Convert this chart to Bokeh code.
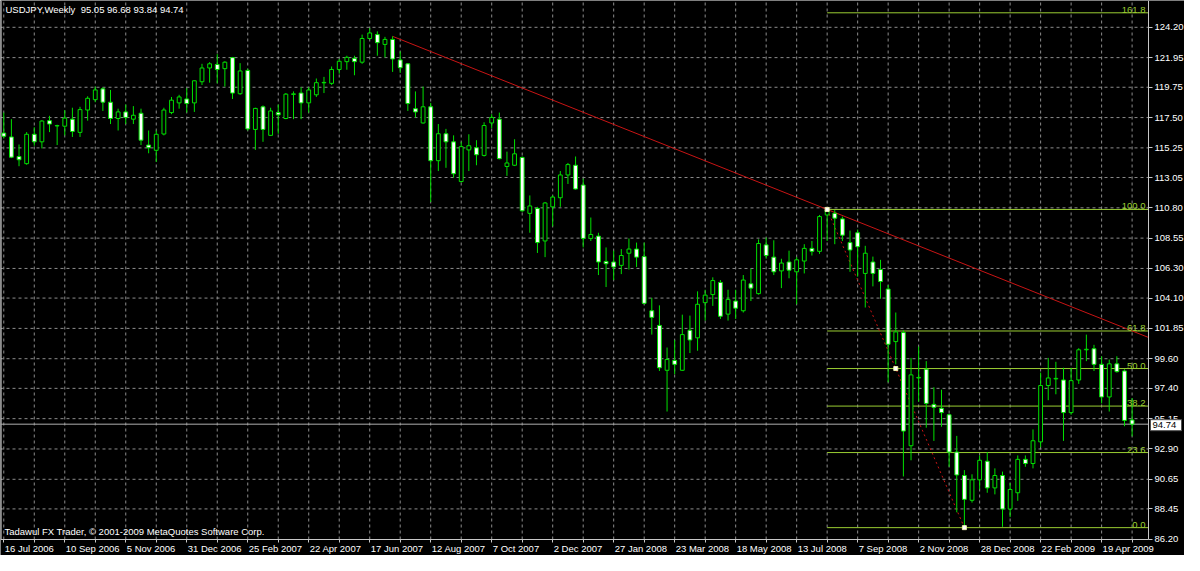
from bokeh.plotting import figure
from bokeh.models import FixedTicker, NumeralTickFormatter, Label, ColumnDataSource
from bokeh.core.properties import value
from bokeh.embed import file_html
from bokeh.resources import INLINE

# ---------------- data (USDJPY weekly) ----------------
opens = [
    116.35, 116.06, 114.61, 114.08, 116.26, 115.70, 117.27, 116.90, 116.86, 117.38,
    116.40, 118.06, 118.83, 119.63, 118.64, 117.43, 117.92, 117.38, 117.82, 115.46,
    115.07, 116.28, 117.87, 118.59, 118.88, 118.59, 120.16, 121.18, 121.44, 121.13,
    121.95, 119.27, 121.00, 116.62, 118.30, 116.18, 117.87, 117.43, 119.22, 119.32,
    118.59, 119.19, 120.08, 120.04, 121.07, 121.65, 121.90, 121.61, 123.37, 123.66,
    122.93, 123.30, 121.78, 121.49, 118.16, 117.10, 118.30, 114.30, 116.30, 115.70,
    112.75, 115.10, 115.26, 114.69, 117.10, 117.38, 113.87, 113.96, 114.54, 110.39,
    110.76, 108.34, 110.87, 111.55, 113.24, 113.96, 112.49, 108.53, 108.70, 106.82,
    106.78, 106.53, 107.43, 107.74, 107.18, 103.16, 102.07, 98.74, 99.47, 98.74,
    101.71, 101.15, 103.76, 104.36, 105.26, 102.91, 103.88, 103.16, 105.16, 104.43,
    108.05, 107.14, 106.12, 106.78, 106.05, 106.85, 107.79, 107.57, 110.27, 110.39,
    109.98, 108.22, 108.95, 105.93, 106.78, 106.22, 104.77, 100.87, 101.54, 93.14,
    98.17, 98.82, 96.21, 95.92, 95.44, 92.67, 90.93, 89.09, 90.61, 91.99,
    90.01, 90.93, 88.44, 89.65, 92.13, 91.82, 93.43, 97.61, 98.10, 98.02,
    95.60, 98.02, 100.26, 100.34, 99.18, 96.76, 99.22, 98.69, 95.05]
highs = [
    117.87, 117.38, 115.50, 116.42, 116.78, 117.31, 117.63, 116.97, 118.06, 118.23,
    118.30, 119.08, 119.80, 119.75, 119.55, 118.16, 118.47, 118.35, 118.16, 116.54,
    116.54, 118.23, 119.03, 119.19, 119.68, 120.25, 121.49, 121.61, 122.21, 121.68,
    122.00, 121.54, 121.13, 118.23, 118.40, 118.23, 118.47, 119.32, 119.44, 119.75,
    119.75, 120.40, 120.52, 121.29, 121.85, 122.09, 122.09, 123.66, 124.14, 123.90,
    123.49, 123.53, 122.41, 121.54, 119.44, 119.80, 118.59, 117.02, 116.66, 116.18,
    115.70, 116.26, 115.82, 117.15, 117.75, 117.87, 114.97, 115.89, 114.61, 111.72,
    110.87, 111.23, 111.72, 113.53, 114.13, 114.61, 112.97, 110.08, 108.95, 107.86,
    107.62, 107.74, 108.53, 108.22, 108.22, 104.12, 103.56, 100.43, 100.99, 102.87,
    102.80, 104.60, 104.72, 105.64, 105.44, 104.72, 104.72, 105.81, 106.29, 108.46,
    108.59, 108.39, 107.02, 107.62, 107.14, 108.10, 108.34, 110.27, 110.68, 110.63,
    110.15, 109.11, 109.19, 107.98, 107.18, 106.94, 105.08, 103.03, 101.71, 99.66,
    100.50, 99.42, 97.48, 97.30, 95.51, 93.87, 91.33, 91.02, 92.42, 92.67,
    91.46, 91.22, 90.37, 92.42, 92.42, 94.35, 98.57, 99.66, 99.37, 98.93,
    98.93, 100.38, 101.39, 100.63, 99.78, 99.54, 99.78, 98.82, 96.68]
lows = [
    115.94, 114.49, 113.89, 114.00, 115.41, 115.21, 116.42, 115.46, 116.18, 116.06,
    116.06, 117.27, 118.64, 117.99, 117.02, 116.54, 117.02, 117.02, 115.46, 114.85,
    114.20, 116.18, 117.75, 118.16, 117.87, 117.92, 119.92, 120.09, 120.04, 119.80,
    118.88, 119.19, 116.54, 115.10, 115.70, 116.15, 116.30, 117.38, 117.38, 117.38,
    117.87, 119.03, 119.32, 119.92, 120.76, 121.05, 120.64, 121.49, 123.30, 122.09,
    121.97, 120.89, 120.81, 117.99, 117.51, 117.05, 111.23, 113.53, 113.77, 113.04,
    112.68, 113.53, 113.96, 114.61, 116.71, 114.40, 113.17, 113.90, 110.51, 108.95,
    107.45, 107.14, 109.42, 110.87, 112.57, 112.15, 107.86, 108.34, 105.81, 104.92,
    105.44, 105.88, 106.22, 106.41, 103.64, 101.39, 98.69, 95.68, 98.45, 98.70,
    100.02, 100.19, 102.43, 103.52, 102.55, 102.43, 102.55, 103.03, 103.88, 104.36,
    107.02, 105.81, 104.84, 105.57, 103.64, 105.93, 107.26, 107.38, 108.34, 108.10,
    108.34, 106.05, 105.69, 103.40, 104.97, 104.05, 97.85, 99.18, 90.86, 92.06,
    96.40, 94.48, 93.50, 94.55, 91.58, 88.20, 87.06, 88.92, 89.89, 89.65,
    89.53, 87.12, 87.84, 89.05, 91.58, 91.46, 93.03, 96.52, 96.96, 93.50,
    95.44, 97.73, 99.42, 98.69, 96.28, 95.68, 98.57, 94.59, 93.84]
closes = [
    116.11, 114.56, 114.37, 116.26, 115.70, 117.24, 117.02, 116.88, 117.46, 116.47,
    118.09, 118.93, 119.55, 118.64, 117.43, 117.92, 117.51, 117.67, 115.82, 115.26,
    116.26, 118.06, 118.79, 119.03, 118.54, 120.23, 121.18, 121.49, 121.07, 121.61,
    119.32, 120.96, 116.66, 118.18, 116.62, 117.99, 117.70, 119.24, 119.26, 118.59,
    119.55, 120.09, 120.11, 121.07, 121.68, 121.97, 121.65, 123.37, 123.78, 123.06,
    123.30, 121.85, 121.20, 118.54, 117.92, 118.30, 114.30, 116.30, 115.70, 113.33,
    115.34, 115.41, 114.74, 116.91, 117.51, 114.45, 114.13, 114.81, 110.58, 110.94,
    108.22, 111.16, 111.60, 113.24, 114.01, 112.20, 108.53, 108.82, 106.78, 106.65,
    106.41, 107.26, 107.74, 107.14, 103.71, 102.67, 98.93, 99.54, 99.18, 101.39,
    100.99, 103.64, 104.32, 105.40, 102.75, 104.00, 103.35, 105.44, 104.84, 108.15,
    107.26, 106.05, 106.70, 106.17, 106.94, 107.79, 107.57, 110.15, 110.63, 110.03,
    108.77, 107.67, 107.91, 107.43, 105.93, 105.33, 100.67, 101.59, 94.23, 98.40,
    98.21, 96.28, 95.99, 95.60, 92.67, 90.97, 89.16, 90.61, 92.06, 90.01,
    90.93, 88.44, 89.89, 92.13, 91.82, 93.51, 97.61, 98.17, 98.14, 95.60,
    97.97, 100.26, 100.30, 99.18, 96.76, 99.22, 98.64, 95.02, 94.74]

date_labels = ["16 Jul 2006", "10 Sep 2006", "5 Nov 2006", "31 Dec 2006", "25 Feb 2007",
               "22 Apr 2007", "17 Jun 2007", "12 Aug 2007", "7 Oct 2007", "2 Dec 2007",
               "27 Jan 2008", "23 Mar 2008", "18 May 2008", "13 Jul 2008", "7 Sep 2008",
               "2 Nov 2008", "28 Dec 2008", "22 Feb 2009", "19 Apr 2009"]
label_every = 8      # bars between date labels
grid_every = 4       # bars between vertical grid lines
price_ticks = [86.20, 88.45, 90.65, 92.90, 95.15, 97.40, 99.60, 101.85, 104.10, 106.30,
               108.55, 110.80, 113.05, 115.25, 117.50, 119.75, 121.95, 124.20]
fib_ratios = [0.0, 0.236, 0.382, 0.5, 0.618, 1.0, 1.618]
fib_names = ["0.0", "23.6", "38.2", "50.0", "61.8", "100.0", "161.8"]
fib_high_bar = 108   # bar holding the swing high
fib_low_bar = 126    # bar holding the swing low
trend_bars = [51, 108]
title_text = "USDJPY,Weekly\u00a0 95.05 96.68 93.84 94.74"
credit_text = "Tadawul FX Trader, \u00a9 2001-2009 MetaQuotes Software Corp."

# ---------------- styling / geometry ----------------
GREEN = "#00e000"
GRID = "#8c8c8c"
AXIS = "#c8c8c8"
RED = "#c81414"
FIB = "#9acd32"
FONT = "Liberation Sans"
FS = "9.5px"

W, H = 1184, 555          # whole canvas
CW, CH = 1148, 539        # chart area inside it (price scale right, dates below)
X0, X1 = -0.43, 150.15    # visible bars in the chart area
Y0, Y1 = 86.18, 126.19    # visible prices in the chart area
pxb = CW / (X1 - X0)
py = CH / (Y1 - Y0)
XE = X0 + W / pxb         # range end including price-scale strip
YB = Y1 - H / py          # range start including date strip

n = len(closes)
idx = list(range(n))
src = ColumnDataSource(dict(
    x=idx, o=opens, h=highs, l=lows, c=closes,
    top=[max(a, b) for a, b in zip(opens, closes)],
    bottom=[min(a, b) for a, b in zip(opens, closes)],
    fill=["white" if c < o else "black" for o, c in zip(opens, closes)],
))

p = figure(width=W, height=H, x_range=(X0, XE), y_range=(YB, Y1),
           y_axis_location="right", x_axis_location="below",
           output_backend="svg", toolbar_location=None, min_border=0,
           background_fill_color="black", border_fill_color="black",
           outline_line_color=None)
p.grid.visible = False

# price axis, pinned at the right edge of the chart area
ax = p.yaxis[0]
ax.fixed_location = X1
ax.bounds = (Y0, Y1)
ax.ticker = FixedTicker(ticks=price_ticks)
ax.formatter = NumeralTickFormatter(format="0.00")
ax.axis_line_color = AXIS
ax.major_tick_line_color = AXIS
ax.major_tick_in = 0
ax.major_tick_out = 4
ax.minor_tick_line_color = None
ax.major_label_text_color = "white"
ax.major_label_text_font = FONT
ax.major_label_text_font_size = FS
ax.major_label_standoff = 2

# time axis line + tick marks pinned at the bottom of the chart area
xa = p.xaxis[0]
xa.fixed_location = Y0
xa.bounds = (X0, X1)
xa.ticker = FixedTicker(ticks=list(range(0, n, grid_every)))
xa.axis_line_color = AXIS
xa.major_tick_line_color = AXIS
xa.major_tick_in = 0
xa.major_tick_out = 3
xa.minor_tick_line_color = None
xa.major_label_text_color = None

# dashed grid limited to the chart area
vx = list(range(0, n, grid_every))
p.segment(x0=vx, y0=[Y0] * len(vx), x1=vx, y1=[Y1] * len(vx),
          line_color=GRID, line_dash="3 3", line_width=1)
hy = price_ticks[1:]
p.segment(x0=[X0] * len(hy), y0=hy, x1=[X1] * len(hy), y1=hy,
          line_color=GRID, line_dash="3 3", line_width=1)

# left frame border
p.segment(x0=[X0 + 0.6 / pxb], y0=[Y0], x1=[X0 + 0.6 / pxb], y1=[Y1], line_color=AXIS)

# bid line
p.segment(x0=[X0], y0=[closes[-1]], x1=[X1], y1=[closes[-1]], line_color="#b0b0b0")

# fibonacci levels
f_hi = highs[fib_high_bar]
f_lo = lows[fib_low_bar]
for r, name in zip(fib_ratios, fib_names):
    lvl = f_lo + r * (f_hi - f_lo)
    p.segment(x0=[fib_high_bar], y0=[lvl], x1=[X1], y1=[lvl], line_color=FIB, line_width=1)
    p.add_layout(Label(x=X1, y=lvl, x_offset=-3, text=name, text_align="right",
                       text_baseline="bottom", text_color=FIB, text_font=FONT,
                       text_font_size=FS))

# trend line (ray through two highs, ends at the chart edge)
tx0, tx1 = trend_bars
ty0, ty1 = highs[tx0], highs[tx1]
slope = (ty1 - ty0) / (tx1 - tx0)
p.line([tx0, X1], [ty0, ty0 + slope * (X1 - tx0)], line_color=RED, line_width=1)

# fib connecting line (dotted)
p.line([fib_high_bar, fib_low_bar], [f_hi, f_lo], line_color=RED, line_width=1, line_dash="2 3")

# candles
p.segment(x0="x", y0="l", x1="x", y1="h", source=src, line_color=GREEN, line_width=1)
p.vbar(x="x", width=0.5, top="top", bottom="bottom", source=src,
       fill_color="fill", line_color=GREEN, line_width=1)

# fib anchor markers
mid_bar = (fib_high_bar + fib_low_bar) / 2
p.scatter([fib_high_bar, mid_bar, fib_low_bar], [f_hi, (f_hi + f_lo) / 2, f_lo],
          marker="square", size=4, fill_color="white", line_color="#f0f0b0")

# date labels under the chart area, left-aligned at their tick
for k, lab in enumerate(date_labels):
    p.add_layout(Label(x=k * label_every, y=Y0 - 3 / py, x_offset=1, text=lab,
                       text_align="left", text_baseline="top", text_color="white",
                       text_font=FONT, text_font_size=FS))

# current price box on the price scale (drawn above the axis labels)
last = closes[-1]
p.quad(left=[X1 + 2 / pxb], right=[X1 + 33 / pxb], bottom=[last - 6.5 / py],
       top=[last + 4.5 / py], fill_color="white", line_color="#505050", level="overlay")
p.text(x=[X1 + 2 / pxb], y=[last - 1 / py], text=[f"{last:.2f}"], x_offset=2,
       text_align="left", text_baseline="middle", text_color="black",
       text_font=value(FONT), text_font_size=value(FS), level="overlay")

# title & credit
p.add_layout(Label(x=X0, y=Y1 - 3 / py, x_offset=5, text=title_text, text_align="left",
                   text_baseline="top", text_color="white", text_font=FONT, text_font_size=FS))
p.add_layout(Label(x=X0, y=Y0 + 3 / py, x_offset=4, text=credit_text, text_align="left",
                   text_baseline="bottom", text_color="white", text_font=FONT, text_font_size=FS))

open("out.html", "w").write(file_html(p, INLINE))
